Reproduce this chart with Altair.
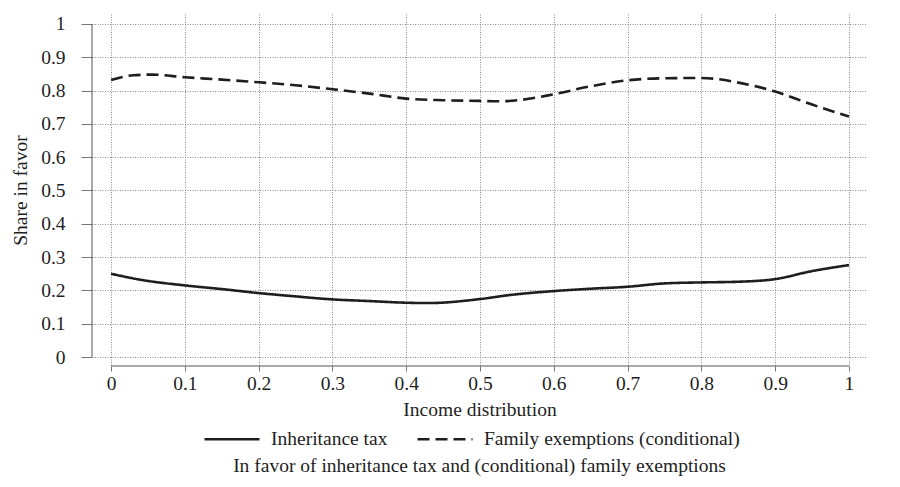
import altair as alt
import pandas as pd

# ---- data ----
fam_x = [0, 0.03, 0.055, 0.1, 0.15, 0.2, 0.25, 0.3, 0.35, 0.4, 0.45, 0.5,
         0.525, 0.555, 0.6, 0.65, 0.7, 0.75, 0.8, 0.85, 0.9, 0.95, 1.0]
fam_y = [0.832, 0.846, 0.848, 0.840, 0.833, 0.825, 0.816, 0.804, 0.791, 0.776,
         0.771, 0.769, 0.768, 0.772, 0.789, 0.813, 0.831, 0.837, 0.838, 0.824,
         0.797, 0.758, 0.722]

inh_x = [0, 0.04, 0.1, 0.15, 0.2, 0.25, 0.3, 0.35, 0.4, 0.43, 0.5, 0.54, 0.6,
         0.65, 0.7, 0.75, 0.8, 0.85, 0.9, 0.95, 1.0]
inh_y = [0.250, 0.232, 0.215, 0.204, 0.192, 0.182, 0.173, 0.168, 0.163, 0.162,
         0.174, 0.186, 0.198, 0.205, 0.211, 0.221, 0.224, 0.226, 0.234, 0.258,
         0.276]

series_names = ["Inheritance tax", "Family exemptions (conditional)"]
x_ticks = [0, 0.1, 0.2, 0.3, 0.4, 0.5, 0.6, 0.7, 0.8, 0.9, 1]
y_ticks = [0, 0.1, 0.2, 0.3, 0.4, 0.5, 0.6, 0.7, 0.8, 0.9, 1]

x_title = "Income distribution"
y_title = "Share in favor"
caption = "In favor of inheritance tax and (conditional) family exemptions"

df = pd.concat([
    pd.DataFrame({"x": inh_x, "y": inh_y, "series": series_names[0]}),
    pd.DataFrame({"x": fam_x, "y": fam_y, "series": series_names[1]}),
])

FONT = "Liberation Serif"
FS = 19.5
INK = "#1e1e1e"

xscale = alt.Scale(domain=[-0.0258, 1.0244], nice=False, zero=False)
yscale = alt.Scale(domain=[-0.027, 1.03], nice=False, zero=False)

xaxis = alt.Axis(values=x_ticks, format="~g", domain=False, labelOverlap=False,
                 tickSize=5, tickColor="#777", labelPadding=3,
                 titlePadding=8, gridDash=[1, 1.5], gridColor="#8a8a8a")
yaxis = alt.Axis(values=y_ticks, format="~g", domain=False, labelOverlap=False,
                 tickSize=11, tickColor="#777", labelPadding=16,
                 titlePadding=10, gridDash=[1, 1.5], gridColor="#8a8a8a")

lines = alt.Chart(df).mark_line(
    color=INK, strokeWidth=2.6, interpolate="monotone"
).encode(
    x=alt.X("x:Q", scale=xscale, title=x_title, axis=xaxis),
    y=alt.Y("y:Q", scale=yscale, title=y_title, axis=yaxis),
    strokeDash=alt.StrokeDash(
        "series:N",
        scale=alt.Scale(domain=series_names, range=[[1, 0], [12, 6]]),
        legend=alt.Legend(
            orient="none", legendX=111, legendY=396, direction="horizontal",
            title=None, symbolType="stroke", symbolSize=3025,
            symbolStrokeWidth=2.6, symbolStrokeColor=INK,
            labelFont=FONT, labelFontSize=FS, labelColor=INK, labelLimit=600,
            labelOffset=10, columnPadding=24,
        ),
    ),
)

one = alt.InlineData(values=[{"k": 1}])

y_axis_line = alt.Chart(one).mark_rule(color="#555", strokeWidth=1).encode(
    x=alt.value(0),
    y=alt.Y(datum=0, scale=yscale, title=y_title, axis=yaxis),
    y2=alt.datum(1),
)

x_axis_line = alt.Chart(one).mark_rule(color="#555", strokeWidth=1).encode(
    y=alt.value(352),
    x=alt.X(datum=0, scale=xscale, title=x_title, axis=xaxis),
    x2=alt.datum(1),
)

chart = alt.layer(lines, y_axis_line, x_axis_line).properties(
    width=775,
    height=352,
    autosize=alt.AutoSizeParams(type="none"),
    padding={"left": 84, "top": 6, "right": 25, "bottom": 112},
    title=alt.TitleParams(caption, orient="bottom", anchor="middle",
                          font=FONT, fontSize=FS, fontWeight="normal",
                          color=INK, offset=8),
).configure_view(
    stroke=None
).configure_axis(
    labelFont=FONT, labelFontSize=FS, labelColor=INK,
    titleFont=FONT, titleFontSize=FS, titleFontWeight="normal", titleColor=INK,
    gridWidth=1,
)

chart.save("out.html", embed_options={"renderer": "svg", "actions": False})
